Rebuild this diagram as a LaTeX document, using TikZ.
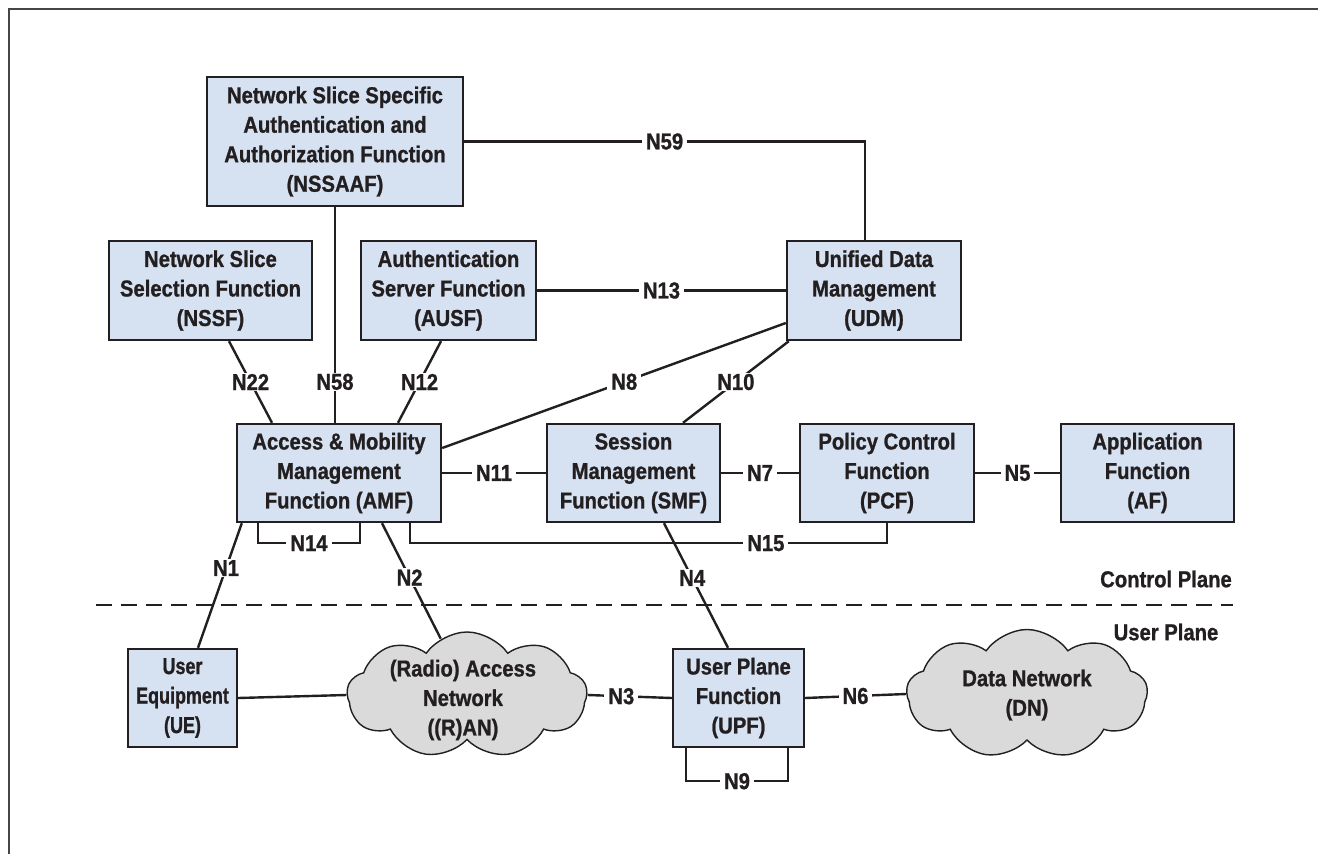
\documentclass[tikz,border=0pt]{standalone}
\usepackage{fontspec}
\setmainfont{Liberation Sans}[FakeStretch=0.88, BoldFeatures={FakeBold=1.0}]
\newfontfamily\narrowfont{Liberation Sans}[FakeStretch=0.78, BoldFeatures={FakeBold=1.0}]
\usetikzlibrary{shapes.symbols}

\definecolor{boxfill}{RGB}{214,226,242}
\definecolor{cloudfill}{RGB}{218,218,219}
\definecolor{ink}{RGB}{35,31,32}
\definecolor{framegray}{RGB}{70,70,70}

\tikzset{
  txt/.style={text=ink, font=\fontsize{23}{29.5}\selectfont\bfseries, align=center, inner sep=0pt},
  nf/.style={txt, draw=ink, line width=2.4pt, fill=boxfill},
  cl/.style={cloud, cloud puffs=9, cloud puff arc=110, aspect=1.9, draw=ink,
             line width=1.4pt, fill=cloudfill, inner sep=0pt},
  ln/.style={draw=ink, line width=2.4pt},
  lbl/.style={txt, fill=white, inner xsep=4pt, inner ysep=1pt},
  divider/.style={draw=ink, line width=2.4pt, dash pattern=on 16pt off 9pt},
}

\begin{document}
\begin{tikzpicture}[x=1pt,y=-1pt]
\useasboundingbox (0,0) rectangle (1318,854);
\fill[white] (0,0) rectangle (1318,854);

% outer frame (top and left edges)
\draw[framegray, line width=2pt] (1318,8.5) -- (9,8.5) -- (9,854);

% network functions
\node[nf, minimum width=256pt, minimum height=129pt] (nssaaf) at (335,141.5)
  {Network Slice Specific\\Authentication and\\Authorization Function\\(NSSAAF)};
\node[nf, minimum width=203pt, minimum height=99pt] (nssf) at (210.5,290.5)
  {Network Slice\\Selection Function\\(NSSF)};
\node[nf, minimum width=175pt, minimum height=99pt] (ausf) at (448.5,290.5)
  {Authentication\\Server Function\\(AUSF)};
\node[nf, minimum width=174pt, minimum height=99pt] (udm) at (874,290.5)
  {Unified Data\\Management\\(UDM)};
\node[nf, minimum width=204pt, minimum height=98pt] (amf) at (339,473)
  {Access \& Mobility\\Management\\Function (AMF)};
\node[nf, minimum width=173pt, minimum height=98pt] (smf) at (633.5,473)
  {Session\\Management\\Function (SMF)};
\node[nf, minimum width=174pt, minimum height=98pt] (pcf) at (887,473)
  {Policy Control\\Function\\(PCF)};
\node[nf, minimum width=173pt, minimum height=98pt] (af) at (1147.5,473)
  {Application\\Function\\(AF)};
\node[nf, minimum width=109pt, minimum height=98pt,
      font=\fontsize{23}{29.5}\narrowfont\bfseries] (ue) at (182.5,698)
  {User\\Equipment\\(UE)};
\node[nf, minimum width=131pt, minimum height=98pt] (upf) at (738.5,698)
  {User Plane\\Function\\(UPF)};

% networks
\node[cl, minimum width=240pt, minimum height=126pt] (ran) at (467,695) {};
\node[txt] (rantext) at (463,700) {(Radio) Access\\Network\\((R)AN)};
\node[cl, minimum width=241pt, minimum height=129pt] (dn) at (1027,694) {};
\node[txt] (dntext) at (1027,695) {Data Network\\(DN)};

% control / user plane divider
\draw[divider] (96,605) -- (1233,605);
\node[txt] (cp) at (1166,579) {Control Plane};
\node[txt] (up) at (1166,632) {User Plane};

% reference points
\draw[ln] (nssaaf.east) -| node[lbl, pos=0.25] {N59} ([xshift=-9pt]udm.north);
\draw[ln] (nssaaf.south) -- (nssaaf.south |- amf.north) node[lbl, pos=0.81] {N58};
\draw[ln] (ausf.east) -- node[lbl] {N13} (udm.west);
\draw[ln] ([xshift=18.5pt]nssf.south) -- node[lbl] {N22} ([xshift=-67pt]amf.north);
\draw[ln] ([xshift=-7.5pt]ausf.south) -- node[lbl] {N12} ([xshift=59pt]amf.north);
\draw[ln] ([yshift=-32.5pt]udm.west) -- node[lbl, pos=0.47] {N8} ([yshift=25pt]amf.east);
\draw[ln] ([xshift=3pt]udm.south west) -- node[lbl] {N10} ([xshift=49.5pt]smf.north);
\draw[ln] (amf.east) -- node[lbl] {N11} (smf.west);
\draw[ln] (smf.east) -- node[lbl] {N7} (pcf.west);
\draw[ln] (pcf.east) -- node[lbl] {N5} (af.west);
\draw[ln] ([xshift=71pt]amf.south) -- ++(0,20) -| node[lbl, pos=0.373] {N15} (pcf.south);
\draw[ln] ([xshift=-81pt]amf.south) -- ++(0,20) -| node[lbl, pos=0.25] {N14} ([xshift=21pt]amf.south);
\draw[ln] ([xshift=6pt]amf.south west) -- node[lbl, pos=0.36] {N1} ([xshift=15.5pt]ue.north);
\draw[ln] ([xshift=43pt]amf.south) -- node[lbl, pos=0.47] {N2} (ran.115);
\draw[ln] ([xshift=30.5pt]smf.south) -- node[lbl, pos=0.44] {N4} ([xshift=-10.5pt]upf.north);
\draw[ln] (ue.east) -- (ran.west);
\draw[ln] (ran.east) -- node[lbl, pos=0.4] {N3} (upf.west);
\draw[ln] (upf.east) -- node[lbl] {N6} (dn.west);
\draw[ln] ([xshift=-52.5pt]upf.south) -- ++(0,33) -| node[lbl, pos=0.25] {N9} ([xshift=49.5pt]upf.south);
\end{tikzpicture}
\end{document}
